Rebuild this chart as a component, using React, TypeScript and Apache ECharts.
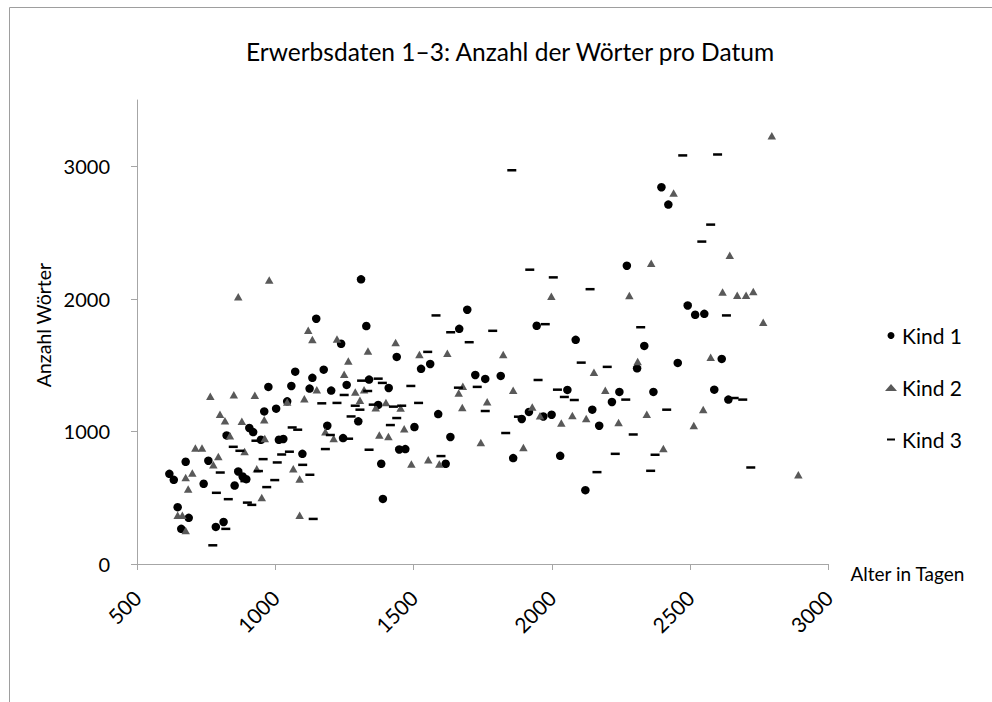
import React, { useEffect, useRef } from "react";
import * as echarts from "echarts";

const titleText = "Erwerbsdaten 1–3: Anzahl der Wörter pro Datum";
const xAxisName = "Alter in Tagen";
const yAxisName = "Anzahl Wörter";
const seriesNames = ["Kind 1", "Kind 2", "Kind 3"];
const yTickValues = [0, 1000, 2000, 3000];

// [Alter in Tagen, Anzahl Wörter]
const kind1: number[][] = [
  [1310, 2147], [1148, 1850], [1329, 1795], [1238, 1661], [1072, 1451], [1175, 1466], [1134, 1404],
  [975, 1336], [1058, 1343], [1124, 1323], [1202, 1308], [1258, 1351], [1339, 1391], [1043, 1227],
  [1003, 1172], [960, 1151], [1300, 1076], [1188, 1043], [906, 1026], [920, 995], [824, 970],
  [1013, 937], [1029, 943], [948, 937], [1245, 950], [1098, 831], [676, 771], [758, 779], [617, 680],
  [633, 635], [741, 605], [866, 698], [882, 660], [895, 640], [853, 592], [647, 429], [687, 348],
  [660, 265], [785, 280], [813, 317],
  [1694, 1918], [1665, 1774], [1945, 1797], [2086, 1691], [1439, 1562], [1527, 1472], [1560, 1509],
  [1410, 1328], [1723, 1426], [1759, 1396], [1815, 1419], [2056, 1313], [2146, 1164], [2171, 1043],
  [1372, 1200], [1503, 1033], [1589, 1131], [1633, 958], [1448, 864], [1470, 867], [1383, 756],
  [1616, 756], [1389, 491], [1891, 1094], [1917, 1147], [1969, 1113], [1999, 1126], [1860, 799],
  [2030, 816], [2121, 557],
  [2396, 2842], [2421, 2711], [2271, 2250], [2491, 1950], [2518, 1880], [2551, 1887], [2334, 1645],
  [2308, 1476], [2455, 1517], [2614, 1547], [2244, 1298], [2367, 1298], [2587, 1315], [2638, 1240],
  [2217, 1222],
];

const kind2: number[][] = [
  [978, 2143], [866, 2016], [1119, 1763], [1134, 1693], [1223, 1698], [1335, 1606], [1264, 1532],
  [1249, 1431], [1150, 1315], [1105, 1247], [1289, 1298], [1306, 1236], [1321, 1315], [1043, 1222],
  [765, 1265], [850, 1277], [926, 1272], [800, 1129], [818, 1081], [879, 1076], [960, 1088],
  [1181, 998], [1211, 947], [836, 967], [962, 947], [711, 875], [735, 875], [794, 811], [776, 748],
  [889, 849], [700, 686], [676, 652], [685, 565], [933, 718], [1065, 718], [1088, 642], [951, 501],
  [1088, 368], [647, 368], [664, 368], [676, 252],
  [1998, 2020], [1435, 1670], [1521, 1580], [1622, 1590], [1824, 1580], [2152, 1446], [1400, 1219],
  [1363, 1179], [1453, 1177], [1678, 1340], [1663, 1290], [1766, 1224], [1676, 1181], [1860, 1310],
  [1929, 1184], [1957, 1119], [2074, 1121], [2124, 1098], [2034, 1063], [1466, 1020], [1376, 973],
  [1409, 962], [1743, 917], [1897, 879], [1492, 754], [1553, 786], [1593, 754],
  [2795, 3230], [2440, 2799], [2643, 2328], [2359, 2268], [2280, 2026], [2617, 2051], [2670, 2028],
  [2702, 2028], [2728, 2056], [2764, 1824], [2310, 1527], [2574, 1559], [2193, 1310], [2343, 1129],
  [2547, 1166], [2241, 1068], [2513, 1045], [2403, 872], [2891, 673],
];

const kind3: number[][] = [
  [1168, 1212], [1223, 1215], [1249, 1275], [1289, 1194], [1306, 1164], [1312, 1383], [1274, 1113],
  [1061, 1030], [1081, 1013], [930, 930], [848, 884], [872, 854], [1051, 847], [1023, 826],
  [956, 791], [1007, 766], [1181, 867], [1199, 973], [1265, 945], [1339, 862], [1099, 748],
  [1125, 673], [939, 701], [801, 690], [998, 633], [969, 580], [890, 625], [787, 537], [830, 489],
  [899, 463], [915, 446], [1137, 340], [821, 265], [774, 141],
  [1581, 1875], [1634, 1748], [1786, 1759], [1976, 1809], [1701, 1673], [1551, 1600], [2106, 1519],
  [1950, 1388], [1372, 1398], [1387, 1366], [1334, 1305], [1490, 1343], [1662, 1330], [1730, 1336],
  [2020, 1315], [2045, 1260], [2081, 1237], [1518, 1215], [1354, 1202], [1427, 1187], [1457, 1194],
  [1439, 1101], [1416, 1048], [1759, 1154], [1879, 1111], [1833, 988], [1599, 814], [2163, 693],
  [1855, 2970], [1920, 2220], [2005, 2162], [2138, 2073], [2473, 3082], [2599, 3089], [2574, 2560],
  [2542, 2432],
  [2631, 1875], [2321, 1786], [2200, 1487], [2267, 1240], [2415, 1164], [2659, 1252], [2690, 1240],
  [2294, 977], [2229, 831], [2373, 824], [2357, 703], [2719, 728],
];

const FONT = "Lato";
const dashIcon = "path://M-2,-2.5L-2,-2.5Z M0,0L8,0L8,2L0,2Z M10,4.5L10,4.5Z";

export default function App() {
  const ref = useRef<HTMLDivElement>(null);
  useEffect(() => {
    if (!ref.current) return;
    const chart = echarts.init(ref.current, null, { renderer: "svg" });
    const axisGray = "#a6a6a6";
    chart.setOption({
      animation: false,
      backgroundColor: "#ffffff",
      textStyle: { fontFamily: FONT },
      title: {
        text: titleText,
        left: 505,
        top: 34,
        textAlign: "center",
        textStyle: { fontFamily: FONT, fontSize: 24.5, fontWeight: "normal", color: "#000" },
      },
      graphic: [
        {
          type: "rect",
          shape: { x: 9.5, y: 7.5, width: 1100, height: 800 },
          style: { fill: "none", stroke: "#9e9e9e", lineWidth: 1 },
          silent: true,
          z: -10,
        },
        {
          type: "text",
          x: 43,
          y: 325,
          rotation: Math.PI / 2,
          silent: true,
          style: {
            text: yAxisName,
            fontFamily: FONT,
            fontSize: 19.5,
            fill: "#000",
            align: "center",
            verticalAlign: "middle",
          },
        },
      ],
      grid: { left: 137, right: 163.5, top: 100, bottom: 138, containLabel: false },
      legend: {
        orient: "vertical",
        left: 880,
        top: 320,
        itemWidth: 12,
        itemHeight: 7,
        itemGap: 31,
        textStyle: { fontFamily: FONT, fontSize: 21, color: "#000" },
        data: [
          { name: seriesNames[0], icon: "circle" },
          { name: seriesNames[1], icon: "triangle" },
          { name: seriesNames[2], icon: dashIcon },
        ],
      },
      xAxis: {
        type: "value",
        min: 500,
        max: 3000,
        interval: 500,
        name: xAxisName,
        nameLocation: "end",
        nameGap: 22,
        nameTextStyle: { fontFamily: FONT, fontSize: 19, color: "#000", verticalAlign: "top" },
        axisLine: { show: true, lineStyle: { color: axisGray, width: 1 } },
        axisTick: { show: true, length: 6, lineStyle: { color: axisGray } },
        axisLabel: {
          rotate: 45,
          margin: 30,
          padding: [8, 0, 0, 0],
          fontFamily: FONT,
          fontSize: 21,
          color: "#000",
          formatter: (v: number) => String(v),
        },
        splitLine: { show: false },
      },
      yAxis: {
        type: "value",
        min: 0,
        max: 3500,
        interval: 1000,
        axisLine: { show: true, lineStyle: { color: axisGray, width: 1 } },
        axisTick: { show: true, length: 6, lineStyle: { color: axisGray }, customValues: yTickValues },
        axisLabel: {
          margin: 27,
          fontFamily: FONT,
          fontSize: 20,
          color: "#000",
          customValues: yTickValues,
          formatter: (v: number) => String(v),
        },
        splitLine: { show: false },
      },
      series: [
        {
          name: seriesNames[0],
          type: "scatter",
          symbol: "circle",
          symbolSize: 8.5,
          itemStyle: { color: "#000000", opacity: 1 },
          data: kind1,
        },
        {
          name: seriesNames[1],
          type: "scatter",
          symbol: "triangle",
          symbolSize: [8.5, 7.5],
          itemStyle: { color: "#595959", opacity: 1 },
          data: kind2,
        },
        {
          name: seriesNames[2],
          type: "scatter",
          symbol: "rect",
          symbolSize: [9, 2.5],
          itemStyle: { color: "#000000", opacity: 1 },
          data: kind3,
        },
      ],
    });
    return () => chart.dispose();
  }, []);
  return (
    <div
      ref={ref}
      style={{ position: "absolute", left: 0, top: 0, width: 992, height: 702 }}
    />
  );
}
